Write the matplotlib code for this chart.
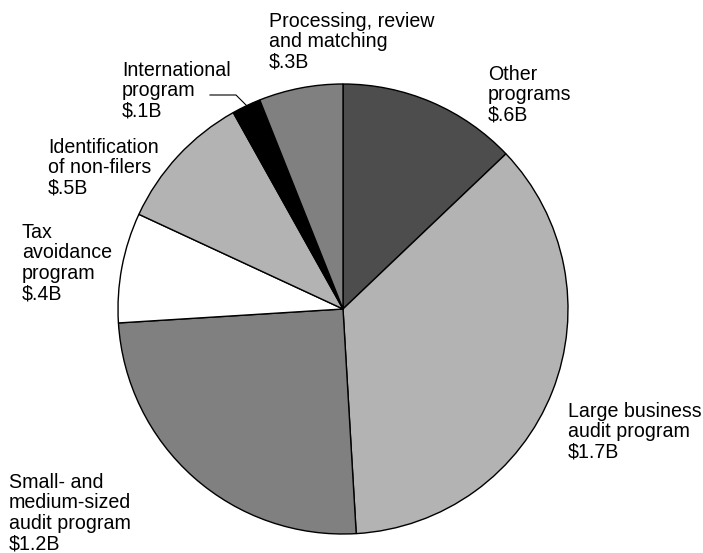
import matplotlib
matplotlib.use("Agg")
import matplotlib.pyplot as plt

# Data (clockwise from 12 o'clock)
categories = ["Other programs", "Large business audit program",
              "Small- and medium-sized audit program", "Tax avoidance program",
              "Identification of non-filers", "International program",
              "Processing, review and matching"]
values = [0.62, 1.74, 1.20, 0.38, 0.48, 0.10, 0.29]
labels = ["Other\nprograms\n$.6B",
          "Large business\naudit program\n$1.7B",
          "Small- and\nmedium-sized\naudit program\n$1.2B",
          "Tax\navoidance\nprogram\n$.4B",
          "Identification\nof non-filers\n$.5B",
          "International\nprogram\n$.1B",
          "Processing, review\nand matching\n$.3B"]
colors = ["#4d4d4d", "#b3b3b3", "#808080", "#ffffff", "#b3b3b3", "#000000", "#808080"]

W, H = 703, 553
fig = plt.figure(figsize=(W / 100, H / 100), dpi=100)
ax = fig.add_axes([0, 0, 1, 1])

cx, cy, r = 343, 309, 225
ax.pie(values, colors=colors, startangle=90, counterclock=False,
       center=(cx, H - cy), radius=r, frame=True,
       wedgeprops=dict(edgecolor="black", linewidth=1.0))
ax.set_xlim(0, W)
ax.set_ylim(0, H)
ax.set_aspect("equal")
ax.axis("off")

# label positions: (left x, first-line baseline y) in pixels from top
label_pos = [(488, 80), (568, 417), (9, 488), (22, 238), (48, 153), (122, 76), (269, 27)]
line_h = 20.4
font = dict(family=["Liberation Sans", "DejaVu Sans"], size=14.1, color="black")
for lab, (x, y) in zip(labels, label_pos):
    for i, line in enumerate(lab.split("\n")):
        ax.text(x, H - (y + i * line_h), line, ha="left", va="baseline", **font)

# leader line for International program
ax.plot([210, 236, 248], [H - 95, H - 95, H - 107], color="black", linewidth=0.8)

fig.savefig("out.png", dpi=100)
